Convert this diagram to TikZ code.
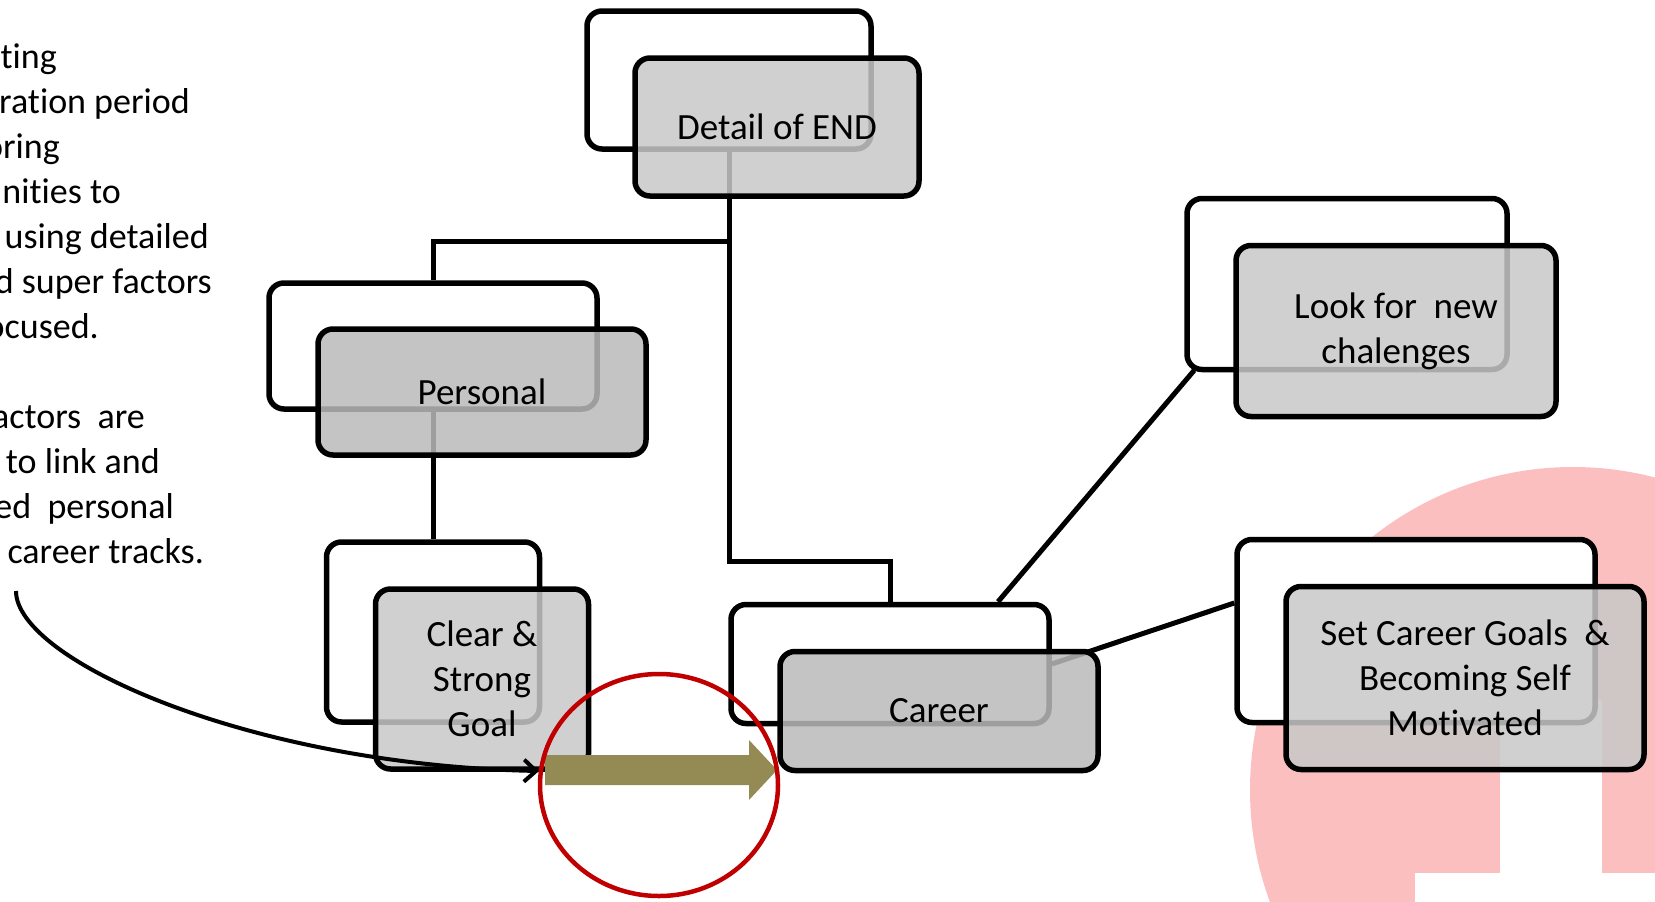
\documentclass[tikz,border=0pt]{standalone}
\usepackage{fontspec}
\setmainfont{Carlito}[Ligatures=NoCommon]
\usepackage{tikz}
\usetikzlibrary{calc,shapes.geometric,arrows.meta}
\definecolor{boxgray}{RGB}{200,200,200}
\definecolor{boxdark}{RGB}{186,186,186}
\definecolor{arrowolive}{RGB}{148,138,84}
\definecolor{ringred}{RGB}{192,0,0}
\definecolor{logopink}{RGB}{251,191,192}
\newcommand{\boxfont}{\fontsize{37}{45}\selectfont}
\newcommand{\notefont}{\fontsize{36}{45}\selectfont}

\begin{document}
\begin{tikzpicture}[x=1pt, y=-1pt,
    backbox/.style={draw=black, line width=5.5pt, rounded corners=15pt, fill=white, inner sep=0pt},
    frontbox/.style={draw=black, line width=5.5pt, rounded corners=15pt, fill=boxgray, fill opacity=0.85, text opacity=1, inner sep=0pt, align=center, font=\boxfont},
    link/.style={line width=5pt},
    pointer/.style={line width=4pt, -{Straight Barb[length=12pt,width=22pt]}},
    notetext/.style={anchor=base east, inner sep=0pt, font=\notefont}]
    \useasboundingbox (0,0) rectangle (1655,902);
    \clip (0,0) rectangle (1655,902);

    % Logo in the background
    \fill[logopink] (1573,790) circle [radius=323];
    \fill[white] (1500,700) rectangle (1602,873);
    \fill[white] (1415,873) rectangle (1660,910);

    % Back boxes
    \node[backbox, minimum width=284, minimum height=138] (detw) at (729,80) {};
    \node[backbox, minimum width=328, minimum height=126] (perw) at (433,346) {};
    \node[backbox, minimum width=213, minimum height=180] (clrw) at (433,632) {};
    \node[backbox, minimum width=318, minimum height=119] (carw) at (890,664) {};
    \node[backbox, minimum width=320, minimum height=171] (lookw) at (1347,284) {};
    \node[backbox, minimum width=358, minimum height=183] (setw) at (1416,631) {};

    % Tree lines
    \coordinate (split) at ($(detw.south)+(0,90)$);
    \coordinate (drop) at ($(detw.south)+(0,410)$);
    \draw[link] (detw.south) -- (split) -| (perw.north);
    \draw[link] (split) -- (drop) -| (carw.north);
    \draw[link] (perw.south) -- (clrw.north);
    \draw[link] ($(carw.north)+(108,0)$) -- ($(lookw.south west)+(10,-2)$);
    \draw[link] (carw.east) -- ($(setw.west)+(0,-28)$);

    % Front boxes
    \node[frontbox, minimum width=284, minimum height=138] (detf) at ($(detw)+(48,47)$) {Detail of END};
    \node[frontbox, fill=boxdark, minimum width=328, minimum height=126] (perf) at ($(perw)+(49,46)$) {Personal};
    \node[frontbox, minimum width=213, minimum height=180] (clrf) at ($(clrw)+(49,47)$) {Clear \&\\Strong\\Goal};
    \node[frontbox, fill=boxdark, minimum width=318, minimum height=119] (carf) at ($(carw)+(49,47)$) {Career};
    \node[frontbox, minimum width=320, minimum height=171] (lookf) at ($(lookw)+(49,47)$) {Look for~ new\\chalenges};
    \node[frontbox, minimum width=358, minimum height=183] (setf) at ($(setw)+(49,47)$) {Set Career Goals~ \&\\Becoming Self\\Motivated};

    % Block arrow
    \fill[arrowolive] (545,755) -- ++(204,0) -- ++(0,-15) -- ++(28,30) -- ++(-28,30) -- ++(0,-15) -- ++(-204,0) -- cycle;

    % Side note (cut off at the left edge)
    \foreach \row/\xend/\txt in {0/57/ting, 1/190/ration period, 2/60/oring, 3/121/nities to, 4/209/using detailed, 5/212/d super factors, 6/99/ocused., 8/145/actors~ are, 9/160/to link and, 10/174/ed~ personal, 11/204/career tracks.} {
        \node[notetext] (note\row) at (\xend, {68+45*\row}) {\txt};
    }

    % Pointer and ring
    \coordinate (tail) at (16,591);
    \coordinate (aim) at (539,771);
    \draw[pointer] (tail) .. controls (16,660) and (250,765) .. (aim);
    \node[ellipse, draw=ringred, line width=4.5pt, minimum width=238, minimum height=222, inner sep=0pt] (focus) at (659,785) {};
\end{tikzpicture}
\end{document}
